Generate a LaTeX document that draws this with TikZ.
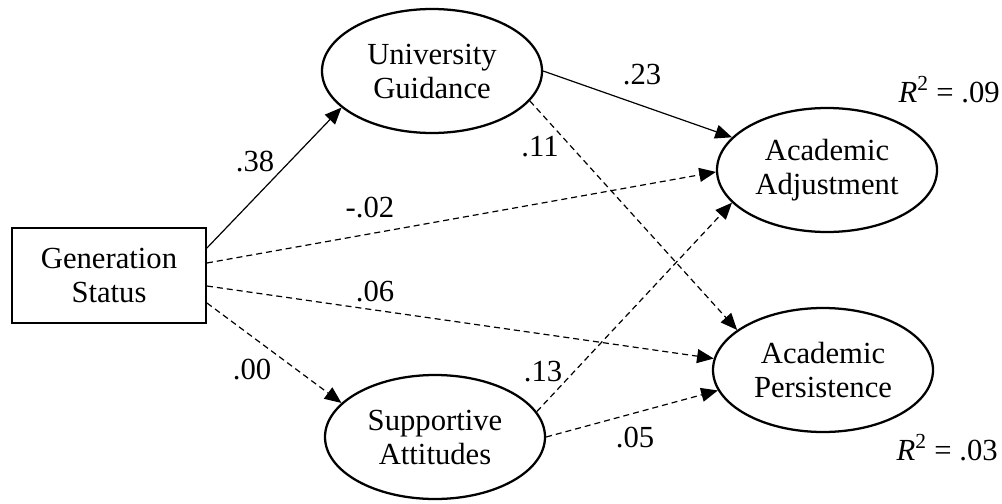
\documentclass[tikz,border=0pt]{standalone}
\usepackage{fontspec}
\setmainfont{Liberation Serif}
\usetikzlibrary{arrows.meta,shapes.geometric,calc}
\begin{document}
\begin{tikzpicture}[x=0.75pt,y=-0.75pt,
  every node/.style={font=\fontsize{23}{25.5}\selectfont},
  latent/.style={ellipse,draw,line width=1.7pt,minimum width=165pt,minimum height=93pt,inner sep=0pt,align=center},
  obs/.style={rectangle,draw,line width=1.4pt,minimum width=145.5pt,minimum height=71pt,inner sep=0pt,align=center},
  sigpath/.style={line width=0.9pt,-{Triangle[length=12.5pt,width=10.5pt]}},
  nspath/.style={sigpath,dash pattern=on 4.5pt off 3pt},
  coef/.style={inner sep=0pt}
]
\useasboundingbox (0,0) rectangle (1002,503);
\node[obs] (gs) at (109,275.5) {Generation\\Status};
\node[latent] (ug) at (432,71) {University\\Guidance};
\node[latent] (sa) at (435,437) {Supportive\\Attitudes};
\node[latent] (aa) at (827,170) {Academic\\Adjustment};
\node[latent] (ap) at (823,370) {Academic\\Persistence};

\draw[sigpath] ($(gs.east)+(0,-27.5)$) -- (ug.202);
\draw[nspath] ($(gs.east)+(0,-12.5)$) -- (aa.181);
\draw[nspath] ($(gs.east)+(0,10.5)$) -- (ap.174);
\draw[nspath] ($(gs.east)+(0,27.5)$) -- (sa.160);
\draw[sigpath] (ug.east) -- (aa.161);
\draw[nspath] (ug.-17) -- (ap.155);
\draw[nspath] (sa.14) -- (aa.199);
\draw[nspath] (sa.east) -- (ap.191);

\node[coef] (c1) at (255,162) {.38};
\node[coef] (c2) at (642,75) {.23};
\node[coef] (c3) at (540,147) {.11};
\node[coef] (c4) at (370,208) {-.02};
\node[coef] (c5) at (375,292) {.06};
\node[coef] (c6) at (252,370) {.00};
\node[coef] (c7) at (543,372) {.13};
\node[coef] (c8) at (635,438) {.05};
\node[coef,anchor=east] (r1) at (1000,90) {\textit{R}\textsuperscript{2} = .09};
\node[coef,anchor=east] (r2) at (998,448) {\textit{R}\textsuperscript{2} = .03};
\end{tikzpicture}
\end{document}
